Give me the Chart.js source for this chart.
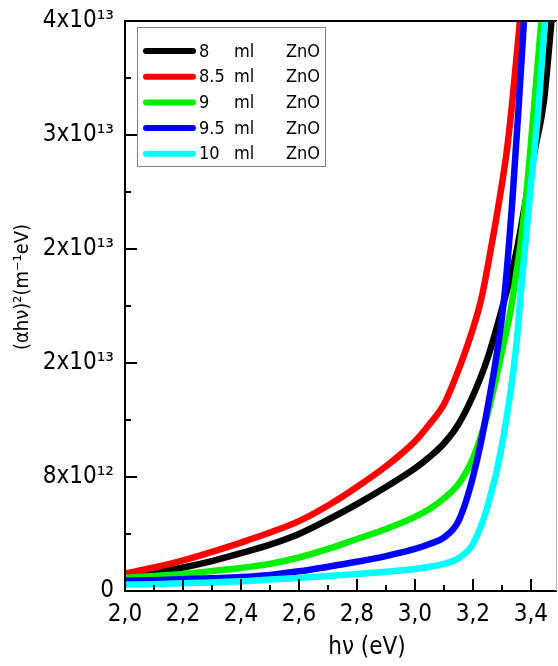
<!DOCTYPE html>
<html>
<head>
<meta charset="utf-8">
<script src="https://cdn.jsdelivr.net/npm/chart.js@4.4.1/dist/chart.umd.min.js"></script>
<style>
  html, body { margin: 0; padding: 0; background: #fff; }
  #wrap { width: 558px; height: 666px; }
</style>
</head>
<body>
<div id="wrap"><canvas id="tauc" width="558" height="666"></canvas></div>
<script>
// photon energy hv (eV) and (alpha*hv)^2 in units of 10^12 m^-1 eV
const hv8  = [2.0, 2.1, 2.2, 2.3, 2.4, 2.5, 2.6, 2.7, 2.8, 2.9, 3.0, 3.05, 3.1, 3.15, 3.2, 3.25, 3.3, 3.35, 3.382, 3.413, 3.445, 3.471];
const ah8  = [1.0, 1.3, 1.65, 2.1, 2.65, 3.25, 4.0, 5.0, 6.1, 7.3, 8.6, 9.4, 10.35, 11.7, 13.7, 16.3, 19.8, 23.8, 27.4, 30.9, 34.4, 40];

const hv85 = [2.0, 2.1, 2.2, 2.3, 2.4, 2.5, 2.6, 2.7, 2.8, 2.9, 3.0, 3.05, 3.1, 3.15, 3.2, 3.23, 3.261, 3.29, 3.317, 3.336, 3.362];
const ah85 = [1.22, 1.65, 2.15, 2.75, 3.4, 4.1, 4.9, 6.0, 7.3, 8.75, 10.5, 11.7, 13.1, 15.5, 18.4, 20.6, 23.9, 27.3, 30.9, 34.4, 40];

const hv9  = [2.0, 2.1, 2.2, 2.3, 2.4, 2.5, 2.6, 2.7, 2.8, 2.9, 3.0, 3.05, 3.1, 3.15, 3.2, 3.25, 3.3, 3.336, 3.382, 3.411, 3.436];
const ah9  = [0.92, 1.05, 1.2, 1.4, 1.62, 1.9, 2.35, 2.95, 3.65, 4.35, 5.2, 5.75, 6.5, 7.5, 9.3, 12.4, 16.8, 20.4, 27.4, 34.0, 40];

const hv95 = [2.0, 2.1, 2.2, 2.3, 2.4, 2.5, 2.6, 2.7, 2.8, 2.9, 3.0, 3.05, 3.1, 3.15, 3.2, 3.25, 3.307, 3.336, 3.359, 3.376];
const ah95 = [0.72, 0.76, 0.83, 0.9, 0.98, 1.13, 1.38, 1.7, 2.05, 2.45, 2.95, 3.3, 3.75, 4.9, 8.0, 12.8, 20.4, 27.4, 34.4, 40];

const hv10 = [2.0, 2.1, 2.2, 2.3, 2.4, 2.5, 2.6, 2.7, 2.8, 2.9, 3.0, 3.05, 3.1, 3.15, 3.2, 3.25, 3.3, 3.35, 3.363, 3.395, 3.428, 3.448];
const ah10 = [0.45, 0.48, 0.54, 0.6, 0.68, 0.8, 0.92, 1.05, 1.2, 1.35, 1.55, 1.7, 1.9, 2.3, 3.3, 5.9, 10.2, 17.3, 20.4, 27.4, 34.4, 40];

const seriesLabels = ['8 ml ZnO', '8.5 ml ZnO', '9 ml ZnO', '9.5 ml ZnO', '10 ml ZnO'];

const xTicks = [2.0, 2.2, 2.4, 2.6, 2.8, 3.0, 3.2, 3.4];
const xMinor = [2.1, 2.3, 2.5, 2.7, 2.9, 3.1, 3.3];
const yTicks = [0, 8, 16, 24, 32, 40];
const yMinor = [4, 12, 20, 28, 36];
const yTickLabels = ['0', '8x10¹²', '2x10¹³', '2x10¹³', '3x10¹³', '4x10¹³'];

const FONT = "'DejaVu Sans Condensed', 'DejaVu Sans', sans-serif";
const colors = ['#000000', '#ff0000', '#00f000', '#0000ff', '#00ffff'];

const pts = (xs, ys) => xs.map((x, i) => ({ x: x, y: ys[i] }));

// axis lines, inward tick marks and the top/right frame
const frameTicks = {
  id: 'frameTicks',
  afterDatasetsDraw(chart) {
    const { ctx, chartArea: a, scales: { x, y } } = chart;
    const L = Math.round(a.left), R = Math.round(a.right), T = Math.round(a.top), B = Math.round(a.bottom);
    ctx.save();
    ctx.fillStyle = '#000';
    ctx.fillRect(L - 1, T - 1, 2, B - T + 2);   // left axis
    ctx.fillRect(L - 1, B - 1, R - L + 1, 2);   // bottom axis
    ctx.fillRect(L - 1, T - 1, R - L + 1, 2);   // top frame
    xTicks.forEach(v => { const p = Math.round(x.getPixelForValue(v)); ctx.fillRect(p - 1, B - 12, 2, 12); });
    xMinor.forEach(v => { const p = Math.round(x.getPixelForValue(v)); ctx.fillRect(p - 1, B - 6, 2, 6); });
    yTicks.forEach(v => { const p = Math.round(y.getPixelForValue(v)); ctx.fillRect(L, p - 1, 12, 2); });
    yMinor.forEach(v => { const p = Math.round(y.getPixelForValue(v)); ctx.fillRect(L, p - 1, 6, 2); });
    ctx.fillStyle = '#b4b4b4';
    ctx.fillRect(R - 1, T, 1, B - T);
    ctx.restore();
  }
};

// boxed legend in the upper left of the plot
const boxLegend = {
  id: 'boxLegend',
  afterDatasetsDraw(chart) {
    const ctx = chart.ctx;
    ctx.save();
    ctx.fillStyle = '#fff';
    ctx.fillRect(137.5, 27.5, 188, 139);
    ctx.strokeStyle = '#808080';
    ctx.lineWidth = 1;
    ctx.strokeRect(137.5, 27.5, 188, 139);
    chart.data.datasets.forEach((ds, i) => {
      const yy = 51 + i * 25.7;
      ctx.strokeStyle = ds.borderColor;
      ctx.lineWidth = 6;
      ctx.lineCap = 'round';
      ctx.beginPath();
      ctx.moveTo(146, yy); ctx.lineTo(193, yy);
      ctx.stroke();
      const parts = ds.label.split(' ');
      ctx.fillStyle = '#000';
      ctx.font = '18px ' + FONT;
      ctx.textBaseline = 'middle';
      ctx.fillText(parts[0], 199, yy + 1);
      ctx.fillText(parts[1], 234, yy + 1);
      ctx.fillText(parts[2], 286, yy + 1);
    });
    ctx.restore();
  }
};

// axis titles
const axisTitles = {
  id: 'axisTitles',
  afterDraw(chart) {
    const ctx = chart.ctx;
    ctx.save();
    ctx.fillStyle = '#000';
    ctx.textAlign = 'center';
    ctx.textBaseline = 'middle';
    ctx.font = '24px ' + FONT;
    ctx.fillText('hν (eV)', 367, 648);
    ctx.translate(23, 287);
    ctx.rotate(-Math.PI / 2);
    ctx.font = '20px ' + FONT;
    ctx.fillText('(αhν)²(m⁻¹eV)', 0, 0);
    ctx.restore();
  }
};

const series = [[hv8, ah8], [hv85, ah85], [hv9, ah9], [hv95, ah95], [hv10, ah10]];

new Chart(document.getElementById('tauc'), {
  type: 'line',
  data: {
    datasets: series.map((s, i) => ({
      label: seriesLabels[i],
      data: pts(s[0], s[1]),
      borderColor: colors[i],
      backgroundColor: colors[i],
      borderWidth: 6.5,
      pointRadius: 0,
      cubicInterpolationMode: 'monotone',
      clip: 0,
      order: 5 - i
    }))
  },
  options: {
    responsive: false,
    animation: false,
    devicePixelRatio: 1,
    layout: { padding: { top: 21, right: 1, left: 0, bottom: 0 } },
    plugins: { legend: { display: false }, tooltip: { enabled: false } },
    scales: {
      x: {
        type: 'linear',
        min: 2.0,
        max: 3.49,
        afterBuildTicks: s => { s.ticks = xTicks.map(v => ({ value: v })); },
        afterFit: s => { s.height = 75; s.paddingLeft = 0; s.paddingRight = 0; },
        grid: { display: false, drawTicks: false },
        border: { display: false },
        ticks: {
          color: '#000',
          padding: 9,
          autoSkip: false,
          maxRotation: 0,
          font: { family: FONT, size: 24 },
          callback: v => v.toFixed(1).replace('.', ',')
        }
      },
      y: {
        type: 'linear',
        min: 0,
        max: 40,
        afterBuildTicks: s => { s.ticks = yTicks.map(v => ({ value: v })); },
        afterFit: s => { s.width = 125; s.paddingTop = 0; s.paddingBottom = 0; },
        grid: { display: false, drawTicks: false },
        border: { display: false },
        ticks: {
          color: '#000',
          padding: 11,
          autoSkip: false,
          font: { family: FONT, size: 24 },
          callback: v => yTickLabels[yTicks.indexOf(v)]
        }
      }
    }
  },
  plugins: [frameTicks, boxLegend, axisTitles]
});
</script>
</body>
</html>
